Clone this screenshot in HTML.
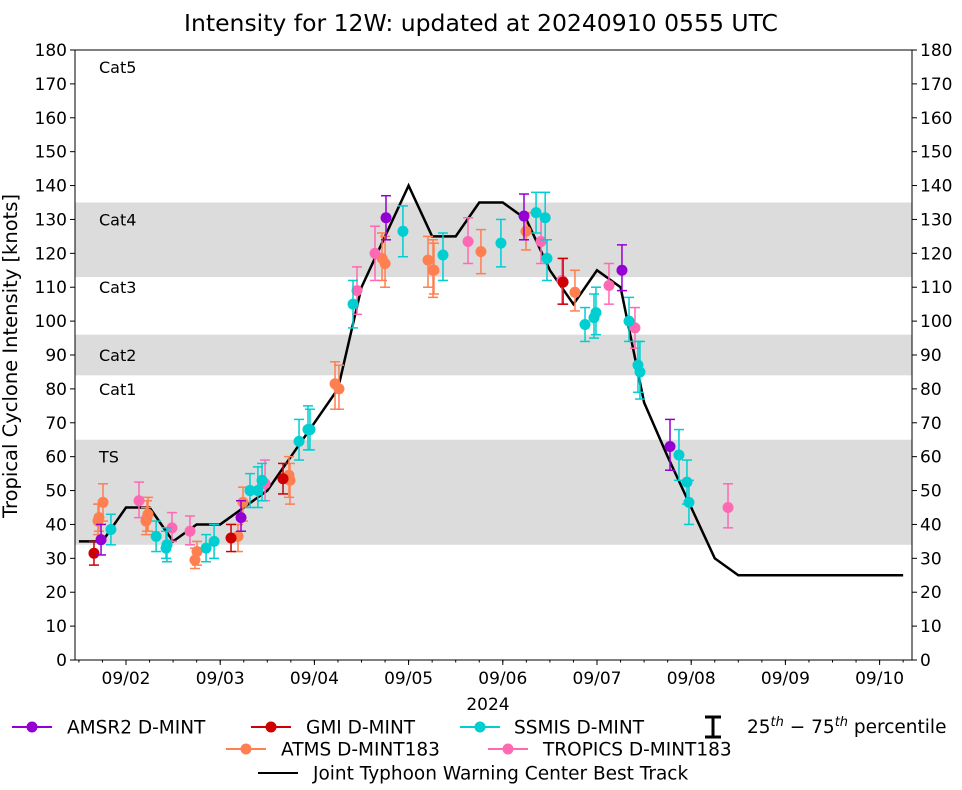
<!DOCTYPE html>
<html><head><meta charset="utf-8"><style>
body{margin:0;background:#fff;font-family:"Liberation Sans","DejaVu Sans",sans-serif;}
svg text{font-family:"DejaVu Sans","Liberation Sans",sans-serif;}
</style></head><body>
<svg id="chart" width="962" height="785" xmlns="http://www.w3.org/2000/svg">
<text x="481" y="31" font-size="23.5" text-anchor="middle">Intensity for 12W: updated at 20240910 0555 UTC</text>
<g id="bands"></g><g id="grid"></g><g id="marks"></g>
<rect x="75" y="50" width="837" height="610" fill="none" stroke="#000" stroke-width="1"/>
<text transform="translate(17,356) rotate(-90)" font-size="19.5" text-anchor="middle">Tropical Cyclone Intensity [knots]</text>
<text x="488" y="710" font-size="17" text-anchor="middle">2024</text>
<g id="legend"></g>
</svg>
<script>
// x values: days since 09/02 00Z; y values: knots
const tickDays=[0,1,2,3,4,5,6,7,8];
const tickLabels=["09/02","09/03","09/04","09/05","09/06","09/07","09/08","09/09","09/10"];
const yTicks=[0,10,20,30,40,50,60,70,80,90,100,110,120,130,140,150,160,170,180];
const bandLo=[34,84,113];
const bandHi=[65,96,135];
const catNames=["Cat5","Cat4","Cat3","Cat2","Cat1","TS"];
const catLevels=[175,130,110,90,80,60];
const bestTrackTimes=[-0.5,-0.25,0,0.25,0.5,0.75,1,1.25,1.5,1.75,2,2.25,2.5,2.75,3,3.25,3.5,3.75,4,4.25,4.5,4.75,5,5.25,5.5,5.75,6,6.25,6.5,6.75,7,7.25,7.5,7.75,8,8.25];
const bestTrackVals=[35,35,45,45,35,40,40,45,50,60,70,80,110,125,140,125,125,135,135,130,115,105,115,110,76,60,45,30,25,25,25,25,25,25,25,25];
const amsrT=[-0.265,1.221,2.76,4.225,5.265,5.775];
const amsrV=[35.5,42,130.5,131,115,63];
const amsrLo=[31,38,124,124,109,56];
const amsrHi=[40,47,137,137.5,122.5,71];
const gmiT=[-0.34,1.115,1.667,4.64];
const gmiV=[31.5,36,53.5,111.5];
const gmiLo=[28,32,49,105];
const gmiHi=[35,40,58,118.5];
const ssmisT=[-0.16,0.32,0.425,0.435,0.85,0.935,1.316,1.4,1.444,1.837,1.932,1.953,2.41,2.94,3.365,3.98,4.353,4.45,4.469,4.873,4.968,4.989,5.34,5.435,5.456,5.87,5.955,5.976];
const ssmisV=[38.5,36.5,33,34,33,35,50,50,53,64.5,68,68,105,126.5,119.5,123,132,130.5,118.5,99,101,102.5,100,87,85,60.5,52.5,46.5];
const ssmisLo=[34,32,30,29,29,30,45,45,47,59,62,62,98,119,112,116,126,124,112,94,95,96,94,79,77,53,46,40];
const ssmisHi=[43,41,38,39,37,40,55,57,58,71,75,74,112,134,126,130,138,138,124,104,108,110,107,94,94,68,59,53];
const atmsT=[-0.297,-0.287,-0.244,0.212,0.223,0.234,0.732,0.754,1.189,1.242,1.73,1.741,2.219,2.261,2.718,2.75,3.206,3.259,3.269,3.768,4.246,4.766];
const atmsV=[41,42,46.5,41,42,43,29.5,32,36.5,46.5,54.5,53,81.5,80,118.5,117,118,115,115,120.5,126.5,108.5];
const atmsLo=[37,38,41,37,38,38,27,28,32,41,48,46,74,74,112,110,110,107,108,114,121,103];
const atmsHi=[46,46,52,45,47,48,33,35,40,51,60,58,88,87,126,125,125,124,123,127,132,115];
const tropT=[0.138,0.488,0.679,1.476,2.452,2.643,3.631,4.406,4.628,5.127,5.403,6.391];
const tropV=[47,39,38,52,109,120,123.5,123.5,112,110.5,98,45];
const tropLo=[42,35,34,47,102,112,117,117,105,105,92,39];
const tropHi=[52.5,43.5,42.5,59,116,128,130.5,131,118.5,117,104,52];

const NS="http://www.w3.org/2000/svg";
const X0=75,X1=912,Y0=660,Y1=50;
const xs=d=>126+d*94.2;
const ys=v=>Y0-(v/180)*(Y0-Y1);
function mk(tag,attrs,parent){const e=document.createElementNS(NS,tag);for(const k in attrs)e.setAttribute(k,attrs[k]);parent.appendChild(e);return e;}
const bands=document.getElementById('bands'),grid=document.getElementById('grid'),marks=document.getElementById('marks'),legend=document.getElementById('legend');
for(let i=0;i<bandLo.length;i++){
  const r=mk('rect',{x:X0,y:ys(bandHi[i]),width:X1-X0,height:ys(bandLo[i])-ys(bandHi[i]),fill:'#dcdcdc'},bands);
  
  
}
for(let i=0;i<catNames.length;i++){
  const t=mk('text',{x:99,y:ys(catLevels[i])+6,'font-size':16},grid);t.textContent=catNames[i];
  
  
}
yTicks.forEach(v=>{
  const y=ys(v);
  mk('line',{x1:X0-5,x2:X0,y1:y,y2:y,stroke:'#000'},grid);
  mk('line',{x1:X1,x2:X1+5,y1:y,y2:y,stroke:'#000'},grid);
  const t=mk('text',{x:X0-8,y:y+6,'font-size':17,'text-anchor':'end'},grid);t.textContent=v;
  
  
  const t2=mk('text',{x:X1+8,y:y+6,'font-size':17},grid);t2.textContent=v;
  
  
});
tickDays.forEach((d,i)=>{
  const x=xs(d);
  mk('line',{x1:x,x2:x,y1:Y0,y2:Y0+5,stroke:'#000'},grid);
  const t=mk('text',{x:x,y:Y0+24,'font-size':17,'text-anchor':'middle'},grid);t.textContent=tickLabels[i];
  
  
});
for(let d=-0.5;d<=8.3;d+=0.25){const x=xs(d);mk('line',{x1:x,x2:x,y1:Y0,y2:Y0+2.5,stroke:'#000'},grid);}
const bt=mk('polyline',{points:bestTrackTimes.map((t,i)=>xs(t)+','+ys(bestTrackVals[i])).join(' '),fill:'none',stroke:'#000','stroke-width':2.5},marks);


function series(T,V,L,H,color,name){
  const g=mk('g',{},marks);
  
  
  T.forEach((t,i)=>{
    const x=xs(t);
    mk('line',{x1:x,x2:x,y1:ys(L[i]),y2:ys(H[i]),stroke:color,'stroke-width':1.5},g);
    mk('line',{x1:x-5,x2:x+5,y1:ys(L[i]),y2:ys(L[i]),stroke:color,'stroke-width':1.5},g);
    mk('line',{x1:x-5,x2:x+5,y1:ys(H[i]),y2:ys(H[i]),stroke:color,'stroke-width':1.5},g);
    const c=mk('circle',{cx:x,cy:ys(V[i]),r:5.5,fill:color},g);
    
    
  });
}
series(atmsT,atmsV,atmsLo,atmsHi,'#ff7f50','atms');
series(tropT,tropV,tropLo,tropHi,'#ff69b4','tropics');
series(ssmisT,ssmisV,ssmisLo,ssmisHi,'#00ced1','ssmis');
series(gmiT,gmiV,gmiLo,gmiHi,'#cc0000','gmi');
series(amsrT,amsrV,amsrLo,amsrHi,'#9400d3','amsr2');
function legItem(x,y,color,label,name,tx){
  const g=mk('g',{},legend);
  
  
  mk('line',{x1:x,x2:x+40,y1:y,y2:y,stroke:color,'stroke-width':2},g);
  if(color!=='#000')mk('circle',{cx:x+20,cy:y,r:5.5,fill:color},g);
  const t=mk('text',{x:tx,y:y+6.5,'font-size':18.5},g);t.textContent=label;
}
legItem(12,727,'#9400d3','AMSR2 D-MINT','amsr2',67);
legItem(251,727,'#cc0000','GMI D-MINT','gmi',306);
legItem(460,727,'#00ced1','SSMIS D-MINT','ssmis',514);
legItem(226,749,'#ff7f50','ATMS D-MINT183','atms',281);
legItem(488,749,'#ff69b4','TROPICS D-MINT183','tropics',543);
legItem(258,773,'#000','Joint Typhoon Warning Center Best Track','best-track',313);
const pg=mk('g',{},legend);


mk('line',{x1:713,x2:713,y1:717,y2:737,stroke:'#000','stroke-width':3},pg);
mk('line',{x1:705,x2:721,y1:717,y2:717,stroke:'#000','stroke-width':3},pg);
mk('line',{x1:705,x2:721,y1:737,y2:737,stroke:'#000','stroke-width':3},pg);
const pt=mk('text',{x:747,y:733,'font-size':18.5},pg);
pt.innerHTML='25<tspan font-size="13" dy="-7" font-style="italic">th</tspan><tspan dy="7"> − 75</tspan><tspan font-size="13" dy="-7" font-style="italic">th</tspan><tspan dy="7"> percentile</tspan>';
</script>
</body></html>
